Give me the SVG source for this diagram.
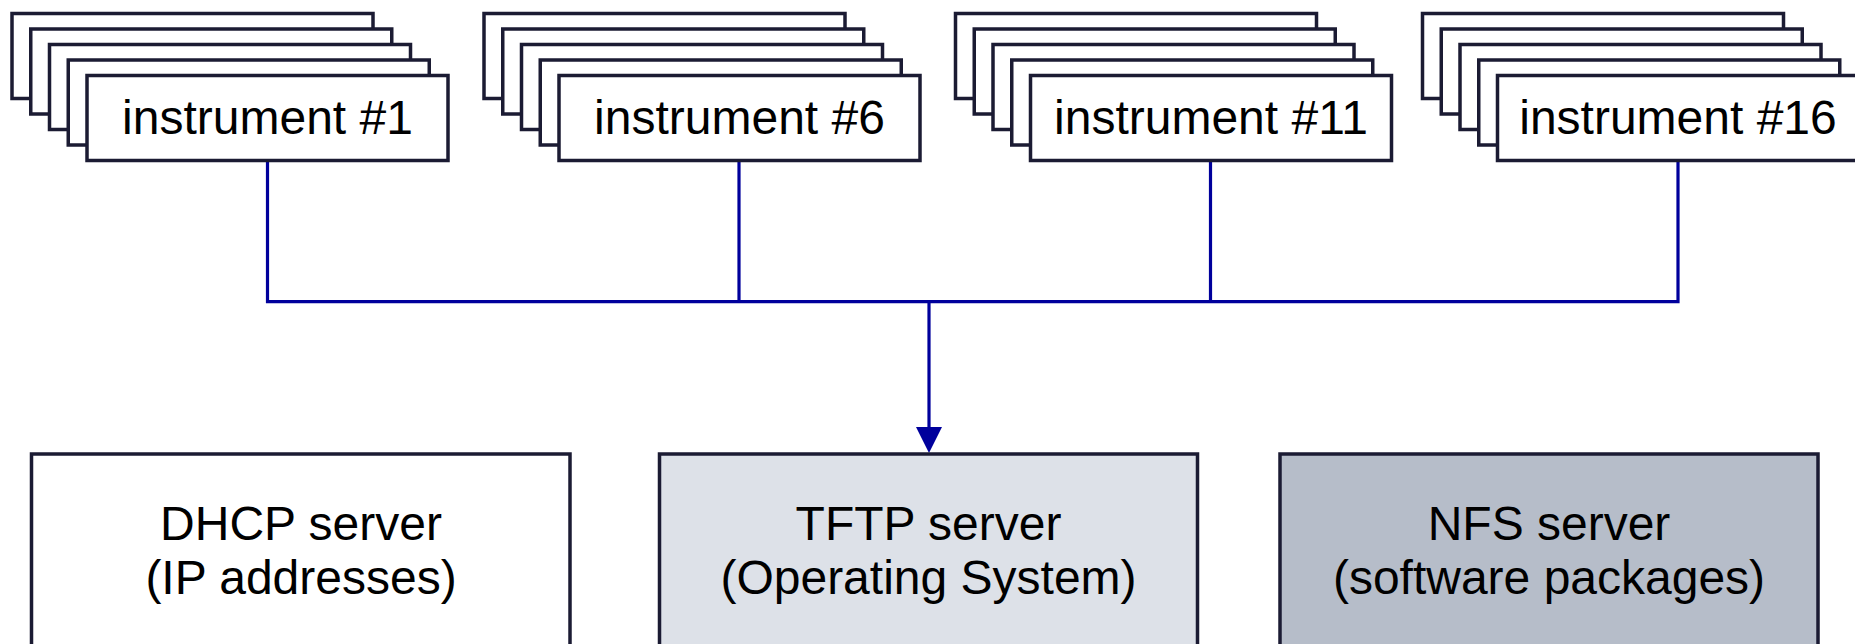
<svg xmlns="http://www.w3.org/2000/svg" width="1855" height="644" viewBox="0 0 1855 644">
  <style>
    .card { fill: #ffffff; stroke: #1b1b33; stroke-width: 3.5; }
    .srv { stroke: #1b1b33; stroke-width: 3.5; }
    .label { font-family: "Liberation Sans", Arial, sans-serif; font-size: 48px; fill: #000000; text-anchor: middle; }
    .wire { fill: none; stroke: #00009c; stroke-width: 3.2; }
    .head { fill: #00009c; }
  </style>
  <defs>
    <!-- one instrument card; stacks are built from five offset copies -->
    <rect id="card" class="card" x="0" y="0" width="361" height="85"/>
    <g id="stack">
      <use href="#card" x="0" y="13.5"/>
      <use href="#card" x="18.75" y="29"/>
      <use href="#card" x="37.5" y="44.5"/>
      <use href="#card" x="56.25" y="60"/>
      <use href="#card" x="75" y="75.5"/>
    </g>
  </defs>

  <!-- bus from the instruments down to the boot servers -->
  <g id="connectors">
    <path class="wire" d="M267.5,160.5 V301.7 H1678 V160.5"/>
    <path class="wire" d="M739,160.5 V301.7"/>
    <path class="wire" d="M1210.5,160.5 V301.7"/>
    <path class="wire" d="M929,301.7 V428"/>
    <path class="head" d="M916,427 L942,427 L929,453 Z"/>
  </g>

  <g id="instrument-1">
    <use href="#stack" x="12" y="0"/>
    <text class="label" x="267.5" y="134">instrument #1</text>
  </g>
  <g id="instrument-6">
    <use href="#stack" x="484" y="0"/>
    <text class="label" x="739.5" y="134">instrument #6</text>
  </g>
  <g id="instrument-11">
    <use href="#stack" x="955.5" y="0"/>
    <text class="label" x="1211" y="134">instrument #11</text>
  </g>
  <g id="instrument-16">
    <use href="#stack" x="1422.5" y="0"/>
    <text class="label" x="1678" y="134">instrument #16</text>
  </g>

  <g id="dhcp-server">
    <rect class="srv" x="31.5" y="454" width="538.5" height="240" fill="#ffffff"/>
    <text class="label" x="301" y="540">DHCP server</text>
    <text class="label" x="301" y="594">(IP addresses)</text>
  </g>
  <g id="tftp-server">
    <rect class="srv" x="659.5" y="454" width="538" height="240" fill="#dde1e8"/>
    <text class="label" x="928.5" y="540">TFTP server</text>
    <text class="label" x="928.5" y="594">(Operating System)</text>
  </g>
  <g id="nfs-server">
    <rect class="srv" x="1280" y="454" width="538" height="240" fill="#b6bdc9"/>
    <text class="label" x="1549" y="540">NFS server</text>
    <text class="label" x="1549" y="594">(software packages)</text>
  </g>
</svg>
